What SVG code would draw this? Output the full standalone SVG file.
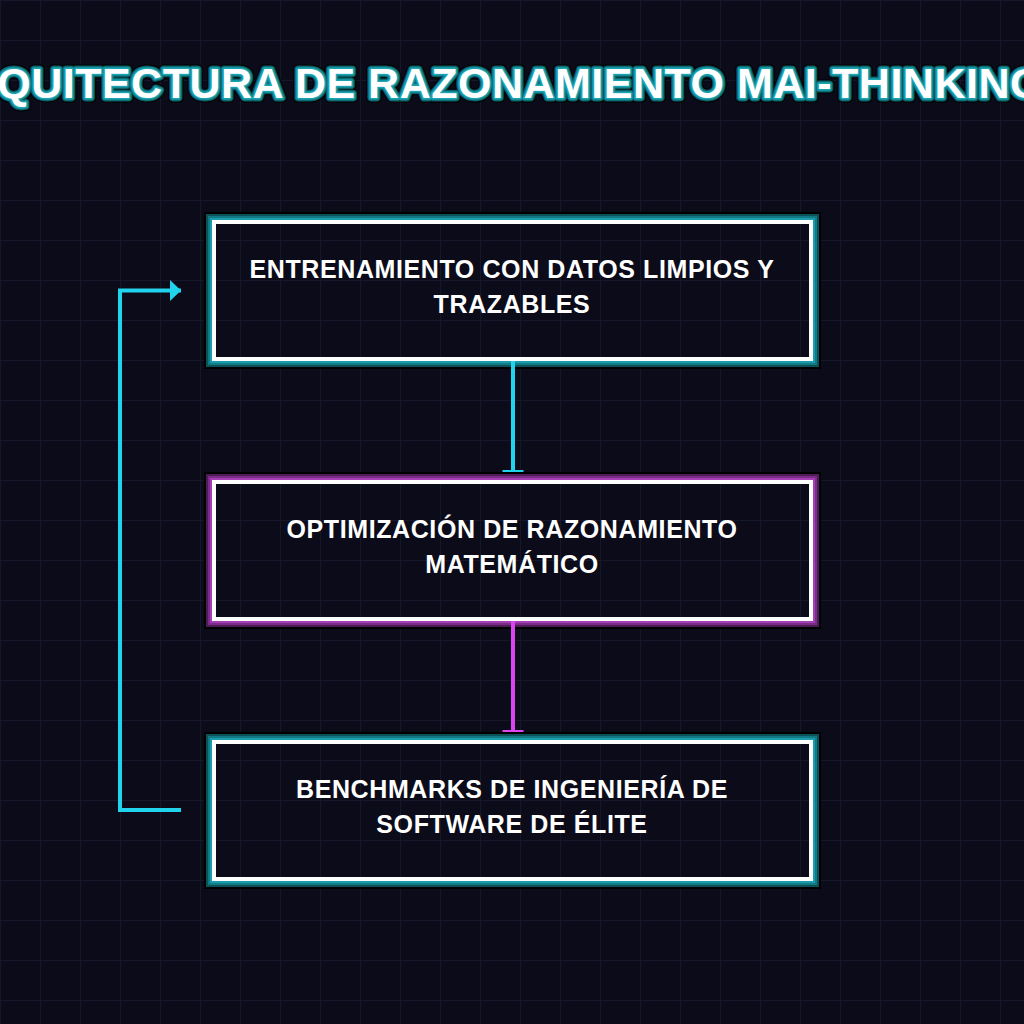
<svg xmlns="http://www.w3.org/2000/svg" xmlns:xlink="http://www.w3.org/1999/xlink" width="1024" height="1024" viewBox="0 0 1024 1024">
  <style>
    .bg { fill: #0b0b19; }
    .gridline { fill: #17172b; }
    .ttl { font-family: "Liberation Sans", Arial, sans-serif; font-weight: bold; font-size: 43px; letter-spacing: 0.5px; }
    .t-black { fill: #000; stroke: #000; stroke-width: 9; stroke-linejoin: round; }
    .t-dark { fill: #0b5258; stroke: #0b5258; stroke-width: 7; stroke-linejoin: round; }
    .t-mid { fill: #127d88; stroke: #127d88; stroke-width: 5; stroke-linejoin: round; }
    .t-bright { fill: #1aa3b3; stroke: #1aa3b3; stroke-width: 3; stroke-linejoin: round; }
    .t-white { fill: #ffffff; }
    .lbl { font-family: "Liberation Sans", Arial, sans-serif; font-weight: bold; font-size: 25px; letter-spacing: 0.6px; fill: #ffffff; text-anchor: middle; }
    .frame { fill: none; stroke: #ffffff; stroke-width: 4; }
    .l-black { fill: none; stroke: #000000; stroke-width: 2; }
    .c-dark { fill: none; stroke: #0b5258; stroke-width: 2; }
    .c-mid { fill: none; stroke: #127a84; stroke-width: 2; }
    .c-bright { fill: none; stroke: #1a9dad; stroke-width: 2; }
    .m-dark { fill: none; stroke: #4d1c57; stroke-width: 2; }
    .m-mid { fill: none; stroke: #7b2c89; stroke-width: 2; }
    .m-bright { fill: none; stroke: #a63eb6; stroke-width: 2; }
    .conn-c { fill: none; stroke: #22d3ee; stroke-width: 4; }
    .conn-m { fill: none; stroke: #d946ef; stroke-width: 4; }
  </style>
  <defs>
    <pattern id="grid" x="0" y="0" width="40" height="40" patternUnits="userSpaceOnUse">
      <rect class="gridline" x="0" y="0" width="40" height="1"/>
      <rect class="gridline" x="0" y="0" width="1" height="40"/>
    </pattern>
    <marker id="tee-c" viewBox="-2 -12 4 24" refX="0" refY="0" markerWidth="4" markerHeight="24" markerUnits="userSpaceOnUse" orient="auto">
      <path d="M0,-10.5 L0,10.5" stroke="#22d3ee" stroke-width="2" fill="none"/>
    </marker>
    <marker id="tee-m" viewBox="-2 -12 4 24" refX="0" refY="0" markerWidth="4" markerHeight="24" markerUnits="userSpaceOnUse" orient="auto">
      <path d="M0,-10.5 L0,10.5" stroke="#d946ef" stroke-width="2" fill="none"/>
    </marker>
    <marker id="arrow-c" viewBox="0 0 11 21" refX="11" refY="10.5" markerWidth="11" markerHeight="21" markerUnits="userSpaceOnUse" orient="auto">
      <path d="M0,0 L11,10.5 L0,21 Z" fill="#22d3ee"/>
    </marker>
    <text id="title-text" class="ttl" x="489" y="98" text-anchor="middle">ARQUITECTURA DE RAZONAMIENTO MAI-THINKING</text>
  </defs>

  <rect class="bg" x="0" y="0" width="1024" height="1024"/>
  <rect x="0" y="0" width="1024" height="1024" fill="url(#grid)"/>

  <g id="title">
    <use xlink:href="#title-text" href="#title-text" class="t-black"/>
    <use xlink:href="#title-text" href="#title-text" class="t-dark"/>
    <use xlink:href="#title-text" href="#title-text" class="t-mid"/>
    <use xlink:href="#title-text" href="#title-text" class="t-bright"/>
    <use xlink:href="#title-text" href="#title-text" class="t-white"/>
  </g>

  <g id="node-entrenamiento">
    <rect class="l-black" x="205" y="213" width="615" height="155"/>
    <rect class="c-dark" x="207" y="215" width="611" height="151"/>
    <rect class="c-mid" x="209" y="217" width="607" height="147"/>
    <rect class="c-bright" x="211" y="219" width="603" height="143"/>
    <rect class="frame" x="214" y="222" width="597" height="137"/>
    <text class="lbl" x="512" y="278">ENTRENAMIENTO CON DATOS LIMPIOS Y</text>
    <text class="lbl" x="512" y="313">TRAZABLES</text>
  </g>

  <g id="node-optimizacion">
    <rect class="l-black" x="205" y="473" width="615" height="155"/>
    <rect class="m-dark" x="207" y="475" width="611" height="151"/>
    <rect class="m-mid" x="209" y="477" width="607" height="147"/>
    <rect class="m-bright" x="211" y="479" width="603" height="143"/>
    <rect class="frame" x="214" y="482" width="597" height="137"/>
    <text class="lbl" x="512" y="538">OPTIMIZACIÓN DE RAZONAMIENTO</text>
    <text class="lbl" x="512" y="573">MATEMÁTICO</text>
  </g>

  <g id="node-benchmarks">
    <rect class="l-black" x="205" y="733" width="615" height="155"/>
    <rect class="c-dark" x="207" y="735" width="611" height="151"/>
    <rect class="c-mid" x="209" y="737" width="607" height="147"/>
    <rect class="c-bright" x="211" y="739" width="603" height="143"/>
    <rect class="frame" x="214" y="742" width="597" height="137"/>
    <text class="lbl" x="512" y="798">BENCHMARKS DE INGENIERÍA DE</text>
    <text class="lbl" x="512" y="833">SOFTWARE DE ÉLITE</text>
  </g>

  <g id="connectors">
    <line class="conn-c" x1="513" y1="361" x2="513" y2="471" marker-end="url(#tee-c)"/>
    <line class="conn-m" x1="513" y1="621" x2="513" y2="731" marker-end="url(#tee-m)"/>
    <path class="conn-c" d="M181,810 L120,810 L120,290.5 L181,290.5" marker-end="url(#arrow-c)"/>
  </g>
</svg>
